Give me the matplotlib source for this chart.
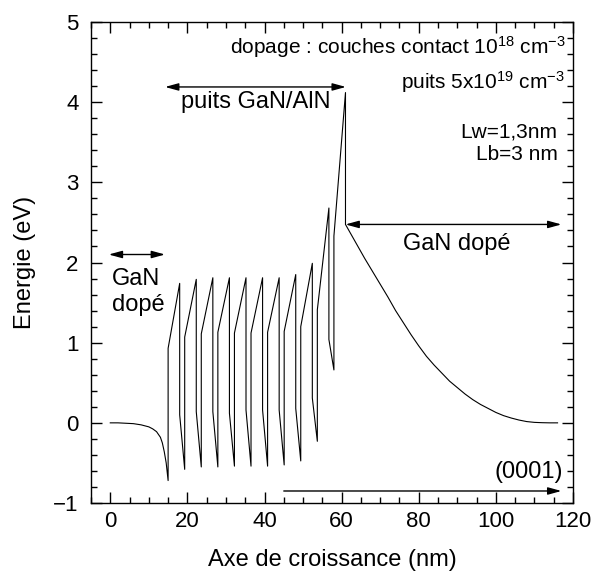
import numpy as np
import matplotlib
matplotlib.use("Agg")
import matplotlib.pyplot as plt
from matplotlib.ticker import MultipleLocator

plt.rcParams["font.family"] = ["Liberation Sans", "DejaVu Sans"]
plt.rcParams["mathtext.default"] = "regular"

# left doped GaN contact layer (nm, eV)
left_x = [0, 2, 4, 6, 8, 10, 11, 12, 13, 13.5, 14, 14.5, 15]
left_e = [0, 0, -0.005, -0.01, -0.025, -0.05, -0.075, -0.11, -0.18, -0.25, -0.36, -0.5, -0.72]

# GaN/AlN superlattice: barrier start positions and band edges
Lb, Lw = 3.0, 1.3
barrier_x = [15.0, 19.3, 23.6, 27.9, 32.2, 36.5, 40.8, 45.1, 49.4, 53.7, 58.0]
barrier_low = [0.93, 1.07, 1.11, 1.13, 1.12, 1.12, 1.13, 1.14, 1.20, 1.41, 2.33]
barrier_high = [1.74, 1.79, 1.81, 1.81, 1.81, 1.81, 1.81, 1.85, 1.99, 2.68, 4.12]
well_high = [0.10, 0.14, 0.14, 0.12, 0.16, 0.16, 0.16, 0.18, 0.31, 1.04]
well_low = [-0.58, -0.55, -0.55, -0.54, -0.54, -0.54, -0.525, -0.475, -0.23, 0.66]

# right doped GaN layer
right_x = [61, 62, 64, 66, 68, 70, 72, 74, 76, 78, 80, 82, 84, 86, 88, 90, 92, 94,
           96, 98, 100, 102, 104, 106, 108, 110, 112, 114, 116]
right_e = [2.475, 2.39, 2.22, 2.05, 1.89, 1.73, 1.57, 1.40, 1.25, 1.10, 0.96, 0.83,
           0.72, 0.62, 0.52, 0.44, 0.36, 0.29, 0.23, 0.18, 0.13, 0.09, 0.06, 0.035,
           0.016, 0.006, 0.002, 0.0, 0.0]

# assemble the conduction band profile
xs, es = list(left_x), list(left_e)
for i, x0 in enumerate(barrier_x):
    xs += [x0, x0 + Lb]
    es += [barrier_low[i], barrier_high[i]]
    if i < len(well_high):
        xs += [x0 + Lb, x0 + Lb + Lw]
        es += [well_high[i], well_low[i]]
xs += right_x
es += right_e

fig = plt.figure(figsize=(5.94, 5.72), dpi=100)
ax = fig.add_axes([0.1532, 0.1206, 0.8114, 0.8409])
ax.plot(xs, es, color="black", lw=0.8)

ax.set_xlim(-5, 120)
ax.set_ylim(-1, 5)
ax.xaxis.set_major_locator(MultipleLocator(20))
ax.xaxis.set_minor_locator(MultipleLocator(5))
ax.yaxis.set_major_locator(MultipleLocator(1))
ax.yaxis.set_minor_locator(MultipleLocator(0.2))
ax.tick_params(which="both", direction="in", top=True, right=True, width=1)
ax.tick_params(which="major", length=8, labelsize=16)
ax.tick_params(axis="y", which="major", pad=9)
ax.tick_params(axis="x", which="major", pad=6)
ax.tick_params(which="minor", length=4.5)
for s in ax.spines.values():
    s.set_linewidth(1)

ax.set_xlabel("Axe de croissance (nm)", fontsize=17, labelpad=12)
ax.set_ylabel("Energie (eV)", fontsize=17, labelpad=12)

arr = dict(arrowstyle="<|-|>,head_length=0.8,head_width=0.22", color="black", lw=1,
           shrinkA=0, shrinkB=0)
ax.annotate("", xy=(-0.4, 2.1), xytext=(14.2, 2.1), arrowprops=arr)
ax.text(0.5, 1.8, "GaN", fontsize=17, ha="left", va="center")
ax.text(0.5, 1.475, "dopé", fontsize=17, ha="left", va="center")

ax.annotate("", xy=(14.2, 4.19), xytext=(61.1, 4.19), arrowprops=arr)
ax.text(57.0, 4.0, "puits GaN/AlN", fontsize=17, ha="right", va="center")

ax.annotate("", xy=(61.0, 2.475), xytext=(117, 2.475), arrowprops=arr)
ax.text(89.9, 2.225, "GaN dopé", fontsize=17, ha="center", va="center")

one = dict(arrowstyle="-|>,head_length=0.8,head_width=0.22", color="black", lw=1,
           shrinkA=0, shrinkB=0)
ax.annotate("", xy=(117, -0.85), xytext=(45, -0.85), arrowprops=one)
ax.text(117.4, -0.61, "(0001)", fontsize=17, ha="right", va="center")

ax.text(118, 4.69, "dopage : couches contact 10$^{18}$ cm$^{-3}$", fontsize=15,
        ha="right", va="center")
ax.text(118, 4.25, "puits 5x10$^{19}$ cm$^{-3}$", fontsize=15, ha="right", va="center")
ax.text(116, 3.625, "Lw=1,3nm", fontsize=15, ha="right", va="center")
ax.text(116, 3.35, "Lb=3 nm", fontsize=15, ha="right", va="center")

fig.savefig("out.png", dpi=100)
